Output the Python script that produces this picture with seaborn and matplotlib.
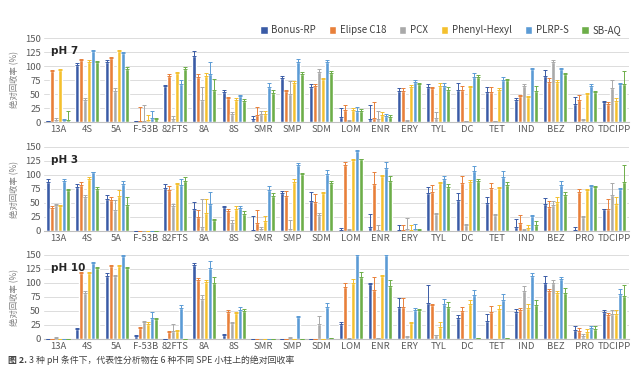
import numpy as np
import pandas as pd
import seaborn as sns
import matplotlib
matplotlib.use("Agg")
import matplotlib.pyplot as plt

categories = ["13A", "4S", "5A", "F-53B", "82FTS", "8A", "8S", "SMR", "SMP", "SDM",
              "LOM", "ENR", "ERY", "TYL", "DC", "TET", "IND", "BEZ", "PRO", "TDCIPP"]
columns = ["Bonus-RP", "Elipse C18", "PCX", "Phenyl-Hexyl", "PLRP-S", "SB-AQ"]
colors = ["#3A5BA6", "#E8803A", "#A9A9A9", "#F4C02E", "#5B9BD5", "#6DAE49"]

# ---- pH 7 ----
ph7_bonus = [1, 101, 108, 1, 64, 118, 54, 6, 78, 62, 9, 5, 56, 62, 58, 54, 40, 82, 32, 35]
ph7_elipse = [91, 110, 114, 2, 82, 81, 42, 12, 55, 64, 22, 8, 56, 60, 57, 54, 46, 72, 40, 33]
ph7_pcx = [3, 40, 55, 2, 5, 40, 15, 14, 50, 90, 2, 5, 2, 8, 1, 1, 65, 108, 3, 60]
ph7_phenyl = [92, 108, 126, 3, 87, 82, 40, 15, 70, 76, 22, 12, 63, 65, 62, 58, 45, 72, 50, 38]
ph7_plrp = [4, 127, 123, 7, 67, 85, 46, 63, 107, 107, 20, 10, 72, 65, 80, 75, 95, 95, 65, 68]
ph7_sbaq = [4, 107, 95, 6, 95, 57, 38, 52, 85, 88, 20, 9, 68, 58, 80, 75, 55, 85, 53, 67]

ph7_bonus_err = [0, 5, 2, 1, 2, 8, 3, 5, 5, 5, 16, 25, 4, 5, 11, 9, 2, 11, 12, 3]
ph7_elipse_err = [2, 2, 2, 25, 3, 4, 3, 15, 3, 3, 8, 27, 4, 3, 8, 9, 2, 6, 8, 3]
ph7_pcx_err = [4, 3, 6, 29, 6, 22, 2, 6, 24, 4, 2, 15, 2, 9, 1, 1, 2, 3, 3, 15]
ph7_phenyl_err = [2, 2, 2, 9, 2, 5, 2, 4, 4, 2, 3, 5, 3, 4, 2, 3, 2, 3, 2, 5]
ph7_plrp_err = [2, 2, 2, 13, 8, 23, 3, 6, 5, 3, 7, 4, 3, 4, 7, 6, 2, 2, 2, 2]
ph7_sbaq_err = [16, 2, 4, 1, 4, 19, 3, 6, 4, 3, 3, 4, 2, 4, 4, 2, 10, 3, 2, 24]

# ---- pH 3 ----
ph3_bonus = [88, 79, 58, 0, 77, 39, 42, 2, 67, 53, 1, 8, 2, 68, 56, 50, 8, 49, 1, 39]
ph3_elipse = [41, 83, 55, 0, 74, 25, 35, 15, 62, 52, 118, 84, 2, 70, 86, 76, 15, 42, 70, 39]
ph3_pcx = [46, 60, 38, 0, 45, 8, 14, 3, 3, 28, 1, 1, 3, 30, 10, 28, 1, 46, 25, 65]
ph3_phenyl = [45, 92, 63, 0, 84, 33, 40, 18, 88, 68, 127, 98, 2, 85, 88, 76, 6, 52, 74, 48]
ph3_plrp = [90, 105, 84, 0, 83, 48, 41, 74, 117, 101, 142, 113, 3, 92, 107, 96, 26, 83, 80, 75]
ph3_sbaq = [73, 75, 46, 0, 89, 20, 30, 62, 101, 85, 128, 89, 2, 78, 90, 83, 11, 65, 79, 88]

ph3_bonus_err = [4, 5, 7, 0, 7, 13, 3, 25, 5, 16, 5, 22, 8, 10, 12, 10, 13, 10, 6, 1]
ph3_elipse_err = [4, 5, 6, 0, 6, 13, 4, 23, 10, 14, 6, 22, 8, 12, 13, 10, 13, 11, 5, 19]
ph3_pcx_err = [3, 4, 18, 0, 3, 50, 5, 5, 17, 4, 3, 10, 20, 2, 2, 2, 2, 8, 2, 21]
ph3_phenyl_err = [2, 4, 10, 0, 2, 25, 4, 8, 4, 2, 2, 2, 8, 3, 3, 3, 5, 8, 1, 13]
ph3_plrp_err = [2, 1, 5, 0, 10, 22, 4, 6, 5, 8, 2, 11, 9, 7, 9, 11, 2, 6, 3, 2]
ph3_sbaq_err = [2, 3, 14, 0, 7, 1, 5, 5, 3, 5, 1, 10, 2, 6, 3, 4, 6, 4, 2, 30]

# ---- pH 10 ----
ph10_bonus = [0, 17, 112, 5, 0, 132, 8, 0, 0, 0, 26, 98, 57, 64, 37, 33, 49, 100, 16, 48]
ph10_elipse = [0, 118, 130, 19, 12, 105, 48, 0, 0, 0, 92, 87, 57, 60, 50, 48, 52, 86, 15, 43]
ph10_pcx = [2, 82, 112, 30, 14, 72, 28, 0, 1, 27, 0, 1, 4, 7, 0, 0, 86, 100, 6, 45]
ph10_phenyl = [0, 118, 130, 26, 14, 102, 47, 0, 0, 0, 100, 112, 28, 22, 62, 54, 56, 82, 13, 44]
ph10_plrp = [0, 135, 148, 38, 55, 127, 52, 0, 40, 57, 150, 150, 51, 63, 78, 69, 112, 108, 19, 80]
ph10_sbaq = [0, 126, 127, 36, 0, 100, 50, 0, 0, 1, 111, 95, 51, 58, 1, 1, 60, 82, 18, 76]

ph10_bonus_err = [0, 2, 6, 2, 0, 3, 1, 0, 0, 0, 4, 2, 17, 33, 6, 12, 5, 12, 7, 4]
ph10_elipse_err = [0, 2, 3, 2, 2, 4, 3, 0, 0, 0, 8, 23, 17, 2, 8, 11, 4, 3, 5, 3]
ph10_pcx_err = [2, 3, 2, 3, 12, 6, 2, 0, 2, 14, 1, 1, 1, 1, 0, 0, 9, 5, 3, 6]
ph10_phenyl_err = [0, 2, 3, 4, 2, 4, 2, 0, 0, 0, 7, 2, 2, 8, 7, 7, 7, 3, 5, 7]
ph10_plrp_err = [0, 2, 2, 10, 6, 12, 6, 0, 1, 8, 2, 2, 4, 9, 9, 11, 5, 3, 4, 10]
ph10_sbaq_err = [0, 3, 2, 2, 0, 10, 4, 0, 0, 1, 9, 10, 2, 8, 1, 1, 10, 9, 6, 20]

panels = [
    ("pH 7", [ph7_bonus, ph7_elipse, ph7_pcx, ph7_phenyl, ph7_plrp, ph7_sbaq],
     [ph7_bonus_err, ph7_elipse_err, ph7_pcx_err, ph7_phenyl_err, ph7_plrp_err, ph7_sbaq_err]),
    ("pH 3", [ph3_bonus, ph3_elipse, ph3_pcx, ph3_phenyl, ph3_plrp, ph3_sbaq],
     [ph3_bonus_err, ph3_elipse_err, ph3_pcx_err, ph3_phenyl_err, ph3_plrp_err, ph3_sbaq_err]),
    ("pH 10", [ph10_bonus, ph10_elipse, ph10_pcx, ph10_phenyl, ph10_plrp, ph10_sbaq],
     [ph10_bonus_err, ph10_elipse_err, ph10_pcx_err, ph10_phenyl_err, ph10_plrp_err, ph10_sbaq_err]),
]
y_ticks = [0, 25, 50, 75, 100, 125, 150]

sns.set_theme(style="white")
plt.rcParams["font.family"] = ["Liberation Sans Narrow", "Noto Sans CJK SC", "DejaVu Sans"]
cjk = ["Noto Sans CJK SC", "DejaVu Sans"]

W, H = 640, 380
fig = plt.figure(figsize=(W / 100, H / 100), dpi=100)
fig.patch.set_facecolor("white")

# pixel positions of (150 line, 0 line) for each panel
pix = [(38, 122), (147, 231), (255, 339)]
left_px, right_px = 43.5, 628.5

axes = []
for (label, vals, errs), (ytop, ybot) in zip(panels, pix):
    ax = fig.add_axes([left_px / W, 1 - ybot / H, (right_px - left_px) / W, (ybot - ytop) / H])
    rows = []
    for col, v in zip(columns, vals):
        for c, val in zip(categories, v):
            rows.append({"cat": c, "col": col, "val": val})
    df = pd.DataFrame(rows)
    sns.barplot(data=df, x="cat", y="val", hue="col", order=categories, hue_order=columns,
                palette=colors, width=0.82, errorbar=None, saturation=1, ax=ax,
                legend=(label == "pH 7"))
    for cont, e, colr in zip(ax.containers, errs, colors):
        xs = [p.get_x() + p.get_width() / 2 for p in cont]
        ys = [p.get_height() for p in cont]
        ax.errorbar(xs, ys, yerr=[np.zeros(len(e)), e], fmt="none", ecolor=colr,
                    elinewidth=0.7, capsize=1.3, capthick=0.7, zorder=3)
    ax.set_ylim(0, 150)
    ax.set_xlim(-0.5, len(categories) - 0.5)
    ax.set_yticks(y_ticks)
    ax.yaxis.grid(True, color="#DCDCDC", linewidth=0.7)
    ax.set_axisbelow(True)
    for s in ["top", "right", "left"]:
        ax.spines[s].set_visible(False)
    ax.spines["bottom"].set_color("#BFBFBF")
    ax.spines["bottom"].set_linewidth(0.8)
    ax.tick_params(axis="both", length=0, labelsize=6.8, labelcolor="#595959", pad=2)
    ax.set_xlabel("")
    ax.set_ylabel("绝对回收率 (%)", family=cjk, fontsize=6, color="#7F7F7F", labelpad=4)
    ax.text(0.012, 0.91, label, transform=ax.transAxes, fontsize=7.5, fontweight="bold",
            color="#262626", va="top", family=["DejaVu Sans"])
    axes.append(ax)

handles, labels_ = axes[0].get_legend_handles_labels()
axes[0].get_legend().remove()
fig.legend(handles, labels_, loc="center right", bbox_to_anchor=(630 / W, 1 - 30 / H),
           ncol=6, frameon=False, fontsize=7, handlelength=0.75, handleheight=0.9,
           handletextpad=0.4, columnspacing=1.3, labelcolor="#404040")

# caption
cy = 1 - 360 / H
t1 = fig.text(8 / W, cy, "图 2.", family=cjk, fontsize=6.4, fontweight="bold", color="#404040", va="center")
renderer = fig.canvas.get_renderer()
bb = t1.get_window_extent(renderer=renderer)
fig.text((bb.x1 + 2) / W, cy, "3 种 pH 条件下，代表性分析物在 6 种不同 SPE 小柱上的绝对回收率",
         family=cjk, fontsize=6.4, color="#404040", va="center")

fig.savefig("out.png", dpi=100, facecolor="white")
